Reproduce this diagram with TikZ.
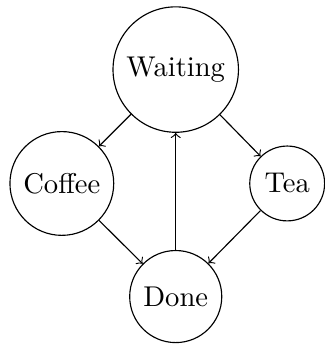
\documentclass[tikz,border=0pt]{standalone}
\usepackage{tikz}

\tikzset{state/.style={circle, draw}}

\begin{document}
\begin{tikzpicture}
    \useasboundingbox (-2.16,0.855) rectangle (1.83,-3.41);

    % States
    \node[state] (waiting) at (0,0) {Waiting};
    \node[state] (coffee) at (-1.40,-1.40) {Coffee};
    \node[state] (tea) at (1.37,-1.40) {Tea};
    \node[state] (done) at (0,-2.79) {Done};

    % Transitions
    \draw[->] (waiting) -- (coffee);
    \draw[->] (waiting) -- (tea);
    \draw[->] (coffee) -- (done);
    \draw[->] (tea) -- (done);
    \draw[->] (done) -- (waiting);
\end{tikzpicture}
\end{document}
